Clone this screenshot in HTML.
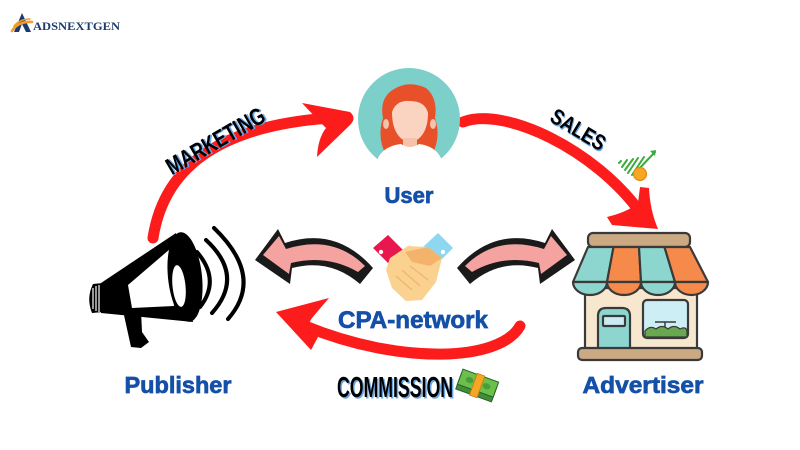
<!DOCTYPE html>
<html><head><meta charset="utf-8"><style>
html,body{margin:0;padding:0;background:#fff;}
svg{display:block;}
.lbl{font-family:"Liberation Sans",sans-serif;font-weight:bold;fill:#1450a8;stroke:#1450a8;stroke-width:0.7;}
.disp{font-family:"Liberation Sans Narrow","Liberation Sans",sans-serif;font-weight:bold;}
</style></head><body>
<svg width="800" height="450" viewBox="0 0 800 450" xmlns="http://www.w3.org/2000/svg">
<rect width="800" height="450" fill="#fff"/>

<!-- Logo -->
<path d="M22,13 L31,32 L26,32 L22,24 L19,32 L14,32 Z" fill="#1d3a6e"/>
<path d="M12,31 Q18,21 32,22" stroke="#f39c2a" stroke-width="2.6" fill="none" stroke-linecap="round"/>
<path d="M14,26 Q20,19 30,19" stroke="#f39c2a" stroke-width="1.6" fill="none" stroke-linecap="round"/>
<text x="33" y="30" font-family="Liberation Serif,serif" font-weight="bold" font-size="12" fill="#1d3a6e" textLength="87" lengthAdjust="spacingAndGlyphs">ADSNEXTGEN</text>

<!-- MARKETING arrow -->
<path d="M153,238 C165,160 230,125 330,118" stroke="#fc1c1c" stroke-width="11" fill="none" stroke-linecap="round"/>
<path d="M302,103 L350,112 Q357,118 350,125 L317,157 Q318,138 326,128 Q316,118 302,103 Z" fill="#fc1c1c"/>
<g transform="translate(216,142) rotate(-30)">
<text x="1.5" y="8" text-anchor="middle" class="disp" font-size="24" fill="#6aa6e8" textLength="110" lengthAdjust="spacingAndGlyphs">MARKETING</text>
<text x="0" y="7" text-anchor="middle" class="disp" font-size="24" fill="#000" textLength="110" lengthAdjust="spacingAndGlyphs">MARKETING</text>
</g>

<!-- SALES arrow -->
<path d="M463,122 C505,106 595,150 640,212" stroke="#fc1c1c" stroke-width="11" fill="none" stroke-linecap="round"/>
<path d="M607,217 Q628,212 638,203 L640,187 L649,188 Q650,210 658,229 L612,225 Z" fill="#fc1c1c"/>
<g transform="translate(578,130) rotate(31)">
<text x="1.5" y="8" text-anchor="middle" class="disp" font-size="22" fill="#6aa6e8" textLength="60" lengthAdjust="spacingAndGlyphs">SALES</text>
<text x="0" y="7" text-anchor="middle" class="disp" font-size="22" fill="#000" textLength="60" lengthAdjust="spacingAndGlyphs">SALES</text>
</g>
<!-- chart icon -->
<g stroke="#3cab3c" stroke-width="2" stroke-linecap="round">
<line x1="619" y1="163" x2="621" y2="161"/>
<line x1="622" y1="167" x2="627" y2="160"/>
<line x1="625" y1="170" x2="633" y2="159"/>
<line x1="628" y1="173" x2="638" y2="158"/>
<line x1="632" y1="175" x2="644" y2="157"/>
<line x1="636" y1="172" x2="655" y2="152"/>
</g>
<path d="M650,151 L656,150 L655,156 Z" fill="#3cab3c"/>
<circle cx="640" cy="174" r="6.5" fill="#f5a623" stroke="#e58a10" stroke-width="1.2"/>

<!-- User -->
<circle cx="409" cy="119" r="51" fill="#7dcfc9"/>
<path d="M394,89 Q409,80 426,88 Q438,98 435,118 Q441,136 433,153 L385,153 Q377,136 383,118 Q379,98 394,89 Z" fill="#e8502a"/>
<ellipse cx="386" cy="124" rx="3" ry="5" fill="#f5c3ac"/>
<ellipse cx="433" cy="124" rx="3" ry="5" fill="#f5c3ac"/>
<path d="M392,112 Q396,100 410,101 Q425,101 428,113 Q428,138 410,143 Q392,138 392,112 Z" fill="#fad4c0"/>
<rect x="403" y="138" width="14" height="10" fill="#f5c3ac"/>
<path d="M377,172 L378,158 Q384,146 401,144 Q410,150 419,144 Q435,146 441,158 L442,172 Z" fill="#fff"/>
<text x="409" y="203" text-anchor="middle" class="lbl" font-size="22">User</text>

<!-- Publisher megaphone -->
<path d="M103,283 L93,284 Q86,298 92,313 L103,312 Z" fill="#000"/>
<g stroke="#fff" stroke-width="1.2">
<line x1="93" y1="288" x2="93" y2="309"/><line x1="96" y1="286" x2="96" y2="311"/><line x1="99" y1="285" x2="99" y2="312"/>
</g>
<path d="M101,283 L176,233 L193,322 L101,313 Z" fill="#000"/>
<path d="M128,285 L170,249 L174,306 L132,308 Z" fill="#fff"/>
<path d="M122,306 L141,311 L142,332 L149,342 L141,348 L131,347 Z" fill="#000"/>
<ellipse cx="185" cy="277" rx="17" ry="45" transform="rotate(-6 185 277)" fill="#000"/>
<ellipse cx="179" cy="286" rx="6.5" ry="21" transform="rotate(-6 179 286)" fill="#fff"/>
<g stroke="#000" stroke-width="4" fill="none" stroke-linecap="round">
<path d="M197,252 Q221,280 200,307"/>
<path d="M206,240 Q245,276 212,313"/>
<path d="M214,228 Q265,277 228,319"/>
</g>
<text x="178" y="393" text-anchor="middle" class="lbl" font-size="23" textLength="107" lengthAdjust="spacingAndGlyphs">Publisher</text>

<!-- Store -->
<g stroke="#3a3a3a" stroke-width="2.2" stroke-linejoin="round">
<rect x="585" y="288" width="112" height="62" fill="#f8e7cf"/>
<rect x="588" y="233" width="102" height="14" rx="5" fill="#caa983"/>
<path d="M588,247 L613.5,247 L607,282 L573,282 Z" fill="#8dd6cf"/>
<path d="M613.5,247 L639,247 L641,282 L607,282 Z" fill="#f58a4b"/>
<path d="M639,247 L664.5,247 L675,282 L641,282 Z" fill="#8dd6cf"/>
<path d="M664.5,247 L690,247 L708,282 L675,282 Z" fill="#f58a4b"/>
<path d="M573,282 A17,13 0 0 0 607,282 Z" fill="#8dd6cf"/>
<path d="M607,282 A17,13 0 0 0 641,282 Z" fill="#f58a4b"/>
<path d="M641,282 A17,13 0 0 0 675,282 Z" fill="#8dd6cf"/>
<path d="M675,282 A16.5,13 0 0 0 708,282 Z" fill="#f58a4b"/>
<path d="M598,350 L598,316 Q598,308 606,308 L622,308 Q630,308 630,316 L630,350 Z" fill="#8dd6cf"/>
<rect x="603" y="316" width="22" height="10" rx="1" fill="#c9ecf3"/>
<rect x="643" y="300" width="45" height="38" rx="4" fill="#cdeef5"/>
<rect x="578" y="348" width="124" height="12" rx="4" fill="#caa983"/>
</g>
<line x1="655" y1="322" x2="676" y2="322" stroke="#3a3a3a" stroke-width="1.5"/>
<line x1="665" y1="322" x2="665" y2="330" stroke="#3a3a3a" stroke-width="1.5"/>
<path d="M645,337 L645,331 Q650,325 656,329 Q662,324 668,329 Q674,324 680,329 Q686,326 687,331 L687,337 Z" fill="#6aa84f" stroke="#3a3a3a" stroke-width="1.2"/>
<text x="643" y="393" text-anchor="middle" class="lbl" font-size="23" textLength="121" lengthAdjust="spacingAndGlyphs">Advertiser</text>

<!-- Pink arrows -->
<path d="M255,260 L278,229 L285,243 Q336,226 373,268 L360,284 Q330,258 292,268 L290,284 Z" fill="#1a1a1a"/>
<path d="M263,255 L279,236 L286,249 Q333,234 365,266 L358,272 Q327,254 291,263 L289,274 Z" fill="#f4a3a0"/>
<g transform="translate(830,0) scale(-1,1)">
<path d="M255,260 L278,229 L285,243 Q336,226 373,268 L360,284 Q330,258 292,268 L290,284 Z" fill="#1a1a1a"/>
<path d="M263,255 L279,236 L286,249 Q333,234 365,266 L358,272 Q327,254 291,263 L289,274 Z" fill="#f4a3a0"/>
</g>

<!-- Handshake -->
<path d="M373,248 L388,235 L403,250 L388,263 Z" fill="#e8174f"/>
<circle cx="381" cy="252" r="2.2" fill="#fff"/>
<path d="M423,247 L438,233 L453,248 L439,262 Z" fill="#8dd8f0"/>
<circle cx="443" cy="252" r="2.2" fill="#fff"/>
<path d="M390,258 L408,246 L428,247 L442,258 L436,282 L422,300 L406,301 L392,288 L386,270 Z" fill="#fbd18f"/>
<path d="M405,252 L428,247 L442,258 L430,266 L412,262 Z" fill="#f4b36c"/>
<g stroke="#f0b56e" stroke-width="1.2" fill="none">
<path d="M396,276 L412,290"/><path d="M402,270 L420,286"/><path d="M410,266 L428,280"/>
</g>

<!-- CPA-network -->
<text x="413" y="328" text-anchor="middle" class="lbl" font-size="24" textLength="150" lengthAdjust="spacingAndGlyphs">CPA-network</text>

<!-- Commission arrow -->
<path d="M520,326 C500,362 400,365 305,326" stroke="#fc1c1c" stroke-width="11" fill="none" stroke-linecap="round"/>
<path d="M329,298 L276,312 L311,350 L318,337 Q305,327 312,318 Z" fill="#fc1c1c"/>

<text x="396.5" y="398.5" text-anchor="middle" class="disp" font-size="29" fill="#6aa6e8" textLength="116" lengthAdjust="spacingAndGlyphs">COMMISSION</text>
<text x="395" y="397" text-anchor="middle" class="disp" font-size="29" fill="#000" textLength="116" lengthAdjust="spacingAndGlyphs">COMMISSION</text>

<!-- money icon -->
<g transform="translate(477,386) rotate(20)">
<rect x="-19" y="-6" width="38" height="16" fill="#3f8f3a" stroke="#2b5e26" stroke-width="1"/>
<rect x="-19" y="-11" width="38" height="16" fill="#6cc04a" stroke="#2b5e26" stroke-width="1"/>
<ellipse cx="-9" cy="-3" rx="4" ry="3" fill="#4a9e3a"/>
<ellipse cx="9" cy="-3" rx="4" ry="3" fill="#4a9e3a"/>
<rect x="-4" y="-12" width="8" height="23" fill="#f5a623" stroke="#c47d10" stroke-width="0.8"/>
</g>
</svg>
</body></html>
